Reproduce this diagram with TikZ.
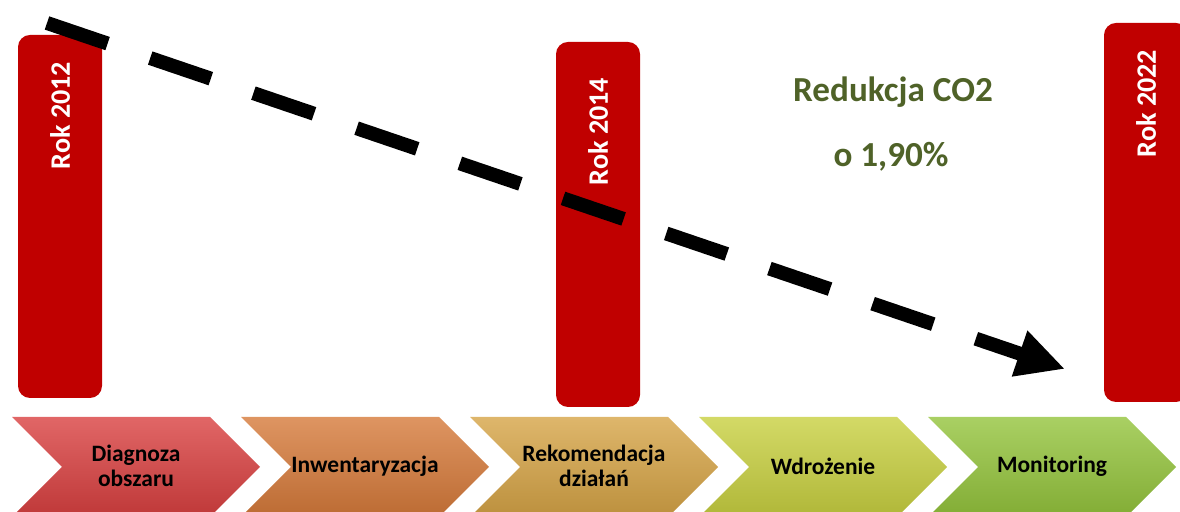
\documentclass[tikz,border=0pt]{standalone}
\usepackage{fontspec}
\setmainfont{Carlito}
\usepackage{tikz}
\usetikzlibrary{arrows.meta,positioning,calc}
\usepackage{xcolor}
\definecolor{barred}{RGB}{192,0,0}
\definecolor{olivetxt}{RGB}{79,98,40}
\definecolor{chred}{RGB}{217,64,64}
\definecolor{chorange}{RGB}{214,122,58}
\definecolor{chgold}{RGB}{214,164,70}
\definecolor{chyellow}{RGB}{200,208,64}
\definecolor{chgreen}{RGB}{148,196,60}

\begin{document}
\begin{tikzpicture}[every node/.style={font=\bfseries},
    yearbar/.style={fill=barred, rounded corners=0.3cm, minimum width=2.1cm, inner sep=0pt},
    yeartxt/.style={white, rotate=90, anchor=east, inner sep=0pt, font=\fontsize{20}{24}\selectfont\bfseries},
    bigtxt/.style={olivetxt, inner sep=0pt, font=\fontsize{25}{30}\selectfont\bfseries},
    stagetxt/.style={align=center, inner sep=0pt, font=\fontsize{16.7}{17.5}\selectfont\bfseries},
    trendarrow/.style={line width=0.35cm, dash pattern=on 1.6cm off 1.125cm,
      -{Triangle[length=1.2cm,width=1.125cm]}}]
        \useasboundingbox (0,0) rectangle (29.5,12.8);
        \clip (0,0) rectangle (29.5,12.8);

        % Year bars
        \node[yearbar, minimum height=9.075cm] (bar1) at (1.5,7.3875) {};
        \node[yearbar, minimum height=9.125cm] (bar2) at (14.95,7.1875) {};
        \node[yearbar, minimum height=9.475cm] (bar3) at (28.65,7.4875) {};
        \node[yeartxt] (y2012) at ($(bar1.north)+(0,-0.675)$) {Rok 2012};
        \node[yeartxt] (y2014) at ($(bar2.north)+(0,-0.9)$) {Rok 2014};
        \node[yeartxt] (y2022) at ($(bar3.north)+(0,-0.675)$) {Rok 2022};

        % Reduction note
        \node[bigtxt] (redukcja) at (22.325,10.5) {Redukcja CO2};
        \node[bigtxt] (procent) at (22.275,8.875) {o 1,90\%};

        % Trend arrow
        \coordinate (arrstart) at (1.175,12.225);
        \coordinate (arrend) at (26.625,3.575);
        \draw[trendarrow] (arrstart) -- (arrend);

        % Process chevrons
        \foreach \k/\col/\txt in {0/chred/{Diagnoza\\obszaru},1/chorange/Inwentaryzacja,
            2/chgold/{Rekomendacja\\działań},3/chyellow/Wdrożenie,4/chgreen/Monitoring} {
          \pgfmathsetmacro{\xo}{0.3+5.725*\k}
          \shade[top color=\col!80!white, middle color=\col, bottom color=\col!88!black]
            (\xo,2.375) -- ++(4.95,0) -- ++(1.25,-1.25) -- ++(-1.25,-1.25)
            -- ++(-4.95,0) -- ++(1.25,1.25) -- cycle;
          \node[stagetxt] (stage\k) at (\xo+3.1,1.15) {\txt};
        }
      \end{tikzpicture}
\end{document}
